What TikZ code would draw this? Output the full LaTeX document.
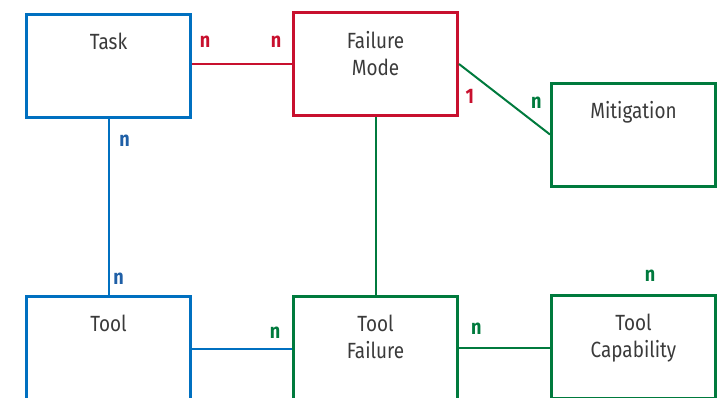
\documentclass[tikz,border=0pt]{standalone}
\usepackage{fontspec}
\setmainfont{Fira Sans}[FakeStretch=0.86]
\usepackage{tikz}
\usetikzlibrary{positioning, calc}

\definecolor{entblue}{HTML}{0070C0}
\definecolor{entred}{HTML}{C8102E}
\definecolor{entgreen}{HTML}{007A3D}
\definecolor{cardblue}{HTML}{1F5FA6}
\definecolor{txtgray}{HTML}{3A3A3A}

\begin{document}
\begin{tikzpicture}[
  x=1pt, y=-1pt,
  entity/.style={rectangle, draw, line width=3pt, minimum width=164pt, minimum height=103pt, inner sep=0pt},
  ename/.style={anchor=north, yshift=-20pt, inner sep=0pt, align=center, text=txtgray, font=\fontsize{22}{27}\selectfont},
  rel/.style={line width=2pt},
  card/.style={font=\fontsize{21}{21}\selectfont\bfseries, inner sep=0pt},
]
\useasboundingbox (0,0) rectangle (728,397);

% Row 1
\node[entity, entblue, label={[ename]north:Task}] (task) at (108.5,66) {};
\node[entity, entred, label={[ename]north:Failure\\Mode}] (fm) at (375.5,64) {};
\node[entity, entgreen, label={[ename]north:Mitigation}] (mit) at (633.5,134.5) {};

% Row 2
\node[entity, entblue, label={[ename]north:Tool}] (tool) at (108.5,348) {};
\node[entity, entgreen, label={[ename]north:Tool\\Failure}] (tf) at (375.5,348) {};
\node[entity, entgreen, label={[ename]north:Tool\\Capability}] (tc) at (633.5,347) {};

% Relations
\draw[rel, entred] (task.east |- 0,64) -- (fm.west |- 0,64)
  node[card, pos=.13, yshift=22pt] (c1) {n}
  node[card, pos=.84, yshift=22pt] (c2) {n};
\draw[rel, entblue] (task.south) -- (tool.north)
  node[card, cardblue, pos=.125, xshift=16pt] (c3) {n}
  node[card, cardblue, pos=.91, xshift=10pt] (c4) {n};
\draw[rel, entgreen] (fm.east) -- (mit.west)
  node[card, entred, pos=.12, yshift=-24pt] (c5) {1}
  node[card, pos=.85, yshift=21pt] (c6) {n};
\draw[rel, entgreen] (fm.south) -- (tf.north);
\draw[rel, entblue] (tool.east |- 0,349) -- (tf.west |- 0,349)
  node[card, entgreen, pos=.83, yshift=16pt] (c7) {n};
\draw[rel, entgreen] (tf.east |- 0,348) -- (tc.west |- 0,348)
  node[card, pos=.19, yshift=19pt] (c8) {n};
\node[card, entgreen] (c9) at (650,276) {n};

\end{tikzpicture}
\end{document}
